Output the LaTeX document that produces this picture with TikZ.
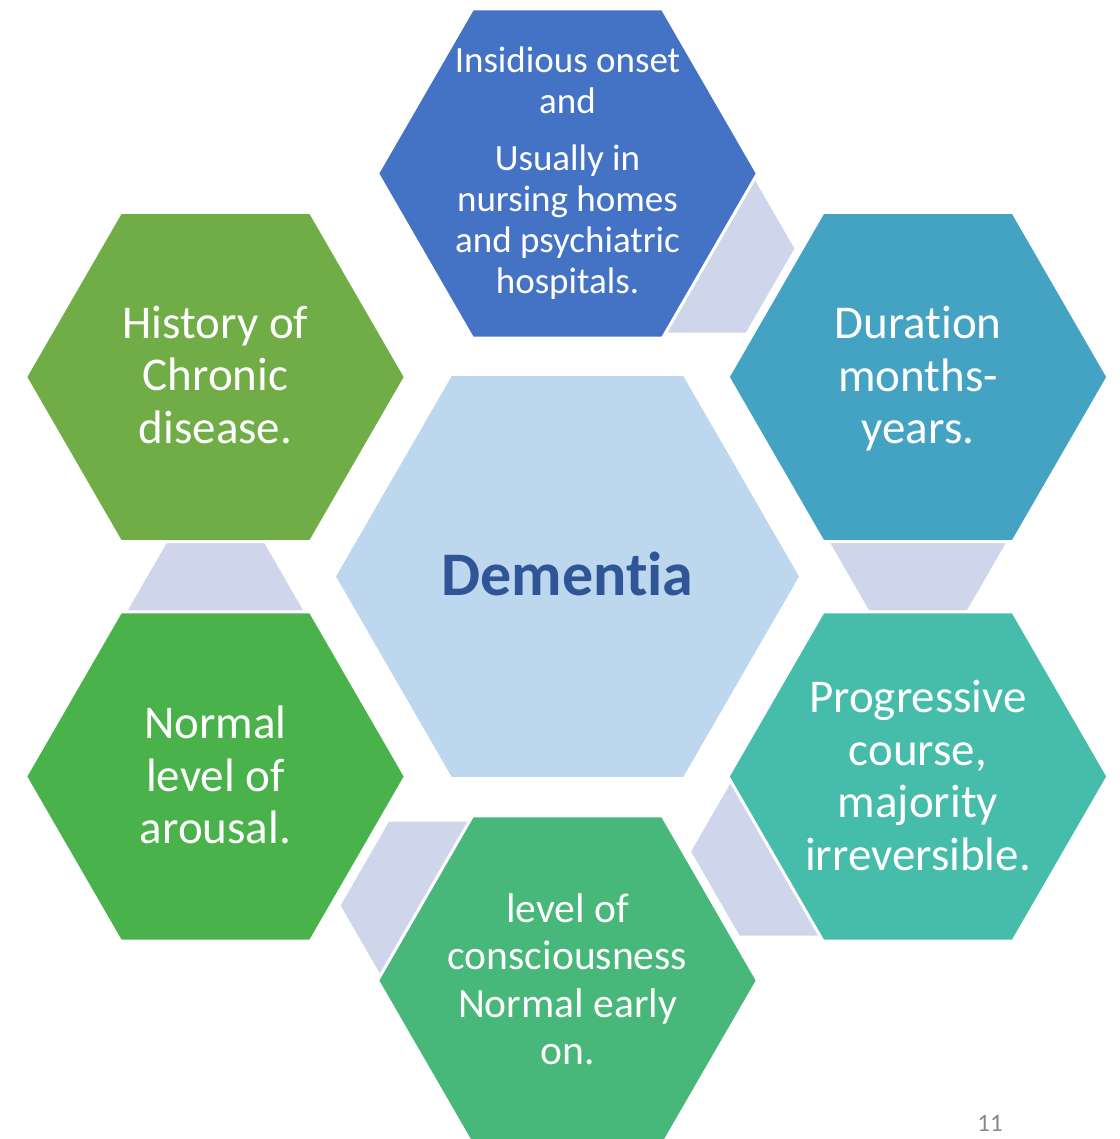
\documentclass[tikz,border=0pt]{standalone}
\usepackage{fontspec}
\setmainfont{Carlito}[Ligatures=NoCommon]
\definecolor{hubfill}{HTML}{BDD7EE}
\definecolor{hubtext}{HTML}{2F5597}
\definecolor{linkfill}{HTML}{CFD5EA}
\definecolor{petalA}{HTML}{4472C4}
\definecolor{petalB}{HTML}{44A3C3}
\definecolor{petalC}{HTML}{46BCAA}
\definecolor{petalD}{HTML}{47B879}
\definecolor{petalE}{HTML}{4AB24A}
\definecolor{petalF}{HTML}{70AD47}
\definecolor{pagegray}{HTML}{898989}

% flat-topped hexagon: style, centre, circumradius
\newcommand\hexagon[3]{%
  \path[#1,shift={(#2)}] (0:#3) -- (60:#3) -- (120:#3) -- (180:#3)
    -- (240:#3) -- (300:#3) -- cycle;}

\begin{document}
\begin{tikzpicture}[x=1pt,y=-1pt,
  petal/.style={fill=#1,draw=white,line width=3pt,line join=miter},
  link/.style={fill=linkfill},
  hubshape/.style={fill=hubfill},
  petaltext/.style={text=white,align=center,inner sep=0pt,
    font=\fontsize{47}{52.5}\selectfont},
  smalltext/.style={text=white,align=center,inner sep=0pt,
    font=\fontsize{37}{41}\selectfont},
  midtext/.style={text=white,align=center,inner sep=0pt,
    font=\fontsize{41.6}{47.5}\selectfont},
]
\useasboundingbox (0,0) rectangle (1119,1139);
\clip (0,0) rectangle (1119,1139);

% centres of the hub and of the six petals
\coordinate (hub) at (567.5,576.5);
\coordinate (o1) at (567.5,173.5);
\coordinate (o2) at (918,377);
\coordinate (o3) at (918,776.5);
\coordinate (o4) at (567.5,980.5);
\coordinate (o5) at (215.5,776.5);
\coordinate (o6) at (215.5,377);

% small linking hexagons, partly hidden under the petals
\coordinate (c1) at (697.4,248.5);
\coordinate (c2) at (918,527);
\coordinate (c3) at (788.1,851.5);
\coordinate (c4) at (437.6,905.5);
\coordinate (c5) at (215.5,626.5);
\foreach \c in {c1,c2,c3,c4,c5}{\hexagon{link}{\c}{97}}

% hub
\hexagon{hubshape}{hub}{231.5}

% petals
\hexagon{petal=petalA}{o1}{190}
\hexagon{petal=petalB}{o2}{190}
\hexagon{petal=petalC}{o3}{190}
\hexagon{petal=petalD}{o4}{190}
\hexagon{petal=petalE}{o5}{190}
\hexagon{petal=petalF}{o6}{190}

% texts
\node[text=hubtext,inner sep=0pt,font=\fontsize{62}{70}\selectfont\bfseries]
  (hubname) at (567.5,574) {Dementia};
\node[smalltext] (t1) at (567.5,173.5)
  {Insidious onset\\and\\[16pt]Usually in\\nursing homes\\and psychiatric\\hospitals.};
\node[petaltext] (t2) at (918,379) {Duration\\months-\\years.};
\node[petaltext] (t3) at (918,775.5) {Progressive\\course,\\majority\\irreversible.};
\node[midtext] (t4) at (567.5,979) {level of\\consciousness\\Normal early\\on.};
\node[petaltext] (t5) at (215.5,775) {Normal\\level of\\arousal.};
\node[petaltext] (t6) at (215.5,375) {History of\\Chronic\\disease.};

% slide number
\node[text=pagegray,inner sep=0pt,anchor=base,font=\fontsize{25}{30}\selectfont]
  (pagenum) at (990,1131) {11};
\end{tikzpicture}
\end{document}
